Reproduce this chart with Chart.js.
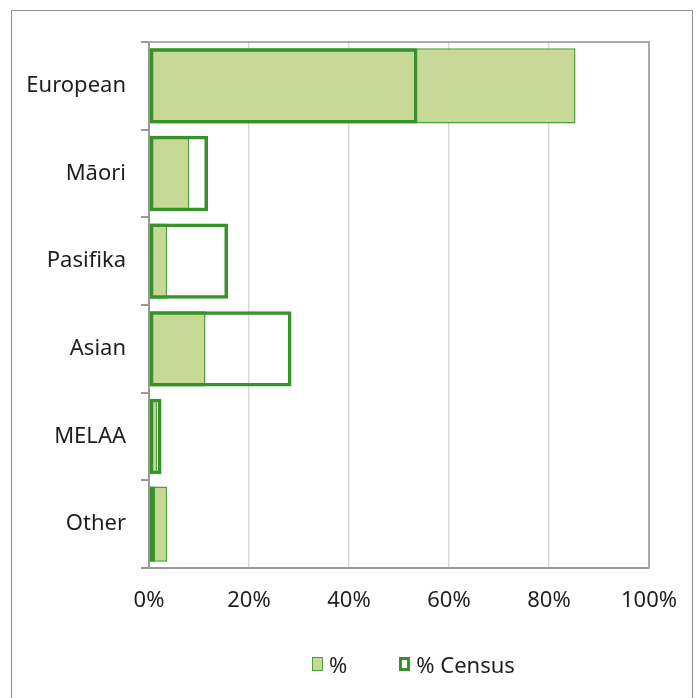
<!DOCTYPE html>
<html>
<head>
<meta charset="utf-8">
<script src="https://cdn.jsdelivr.net/npm/chart.js@4.4.1/dist/chart.umd.min.js"></script>
<style>
    body { margin: 0; background: #fff; }
    #wrap { position: relative; width: 697px; height: 698px; overflow: hidden; }
    #frame { position: absolute; left: 11px; top: 10px; width: 682px; height: 720px; border: 1.5px solid #8c8c8c; box-sizing: border-box; }
    #chart { position: absolute; left: 0; top: 0; }
    #legend { position: absolute; top: 649px; left: 312px; display: flex; font-family: "Noto Sans", sans-serif; font-size: 22px; color: #1e1e1e; }
    #legend .item { display: flex; align-items: center; margin-right: 52px; }
    #legend .box { width: 11px; height: 14px; margin-right: 6px; box-sizing: border-box; }
</style>
</head>
<body>
<div id="wrap">
    <div id="frame"></div>
    <canvas id="chart" width="697" height="698"></canvas>
    <div id="legend"></div>
</div>
<script>
// Ethnicity share vs census

const categories = ['European', 'Māori', 'Pasifika', 'Asian', 'MELAA', 'Other'];
const pctValues = [85.3, 8.0, 3.6, 11.3, 1.6, 3.6];
const censusValues = [53.7, 11.8, 15.8, 28.5, 2.5, 1.2];
const xTicks = [0, 20, 40, 60, 80, 100];

const FILL = 'rgb(200, 216, 150)';
const FILL_BORDER = 'rgb(72, 160, 55)';
const CENSUS_BORDER = 'rgb(55, 146, 44)';
const FONT = { family: '"Noto Sans", sans-serif', size: 22 };

// top + right edge of the plot area
const plotFrame = {
    id: 'plotFrame',
    afterDatasetsDraw(chart) {
        const a = chart.chartArea;
        const ctx = chart.ctx;
        ctx.save();
        ctx.strokeStyle = '#ababab';
        ctx.lineWidth = 2;
        ctx.beginPath();
        ctx.moveTo(a.left, a.top);
        ctx.lineTo(a.right, a.top);
        ctx.lineTo(a.right, a.bottom);
        ctx.stroke();
        ctx.restore();
    }
};

const chart = new Chart(document.getElementById('chart'), {
    type: 'bar',
    data: {
        labels: categories,
        datasets: [{
            label: '%',
            data: pctValues,
            backgroundColor: FILL,
            borderColor: FILL_BORDER,
            borderWidth: 1.5,
            borderSkipped: false,
            order: 1
        }, {
            label: '% Census',
            data: censusValues,
            backgroundColor: 'rgba(255,255,255,0)',
            borderColor: CENSUS_BORDER,
            borderWidth: 3.5,
            borderSkipped: false,
            order: 0
        }]
    },
    options: {
        indexAxis: 'y',
        responsive: false,
        animation: false,
        grouped: false,
        categoryPercentage: 1,
        barPercentage: 0.86,
        layout: { padding: { top: 42, right: 48, left: 0, bottom: 54 } },
        plugins: {
            legend: { display: false },
            tooltip: { enabled: false }
        },
        scales: {
            x: {
                min: 0,
                max: 100,
                afterBuildTicks: axis => { axis.ticks = xTicks.map(v => ({ value: v })); },
                afterFit: axis => { axis.height = 76; },
                grid: {
                    color: ctx => ctx.index === xTicks.length - 1 ? '#ababab' : '#d9d9d9',
                    lineWidth: 1.5,
                    drawTicks: false
                },
                border: { color: '#999', width: 2 },
                ticks: {
                    padding: 20,
                    color: '#1e1e1e',
                    font: FONT,
                    callback: v => v + '%'
                }
            },
            y: {
                afterFit: axis => { axis.width = 149; },
                grid: {
                    offset: true,
                    drawOnChartArea: false,
                    tickLength: 8,
                    color: '#999',
                    lineWidth: 2
                },
                border: { color: '#999', width: 2 },
                ticks: {
                    padding: 15,
                    color: '#1e1e1e',
                    font: FONT
                }
            }
        }
    },
    plugins: [plotFrame]
});

// legend in dataset order
const legend = document.getElementById('legend');
chart.data.datasets.forEach(ds => {
    const item = document.createElement('div');
    item.className = 'item';
    const box = document.createElement('span');
    box.className = 'box';
    box.style.background = ds.backgroundColor === FILL ? FILL : '#fff';
    box.style.border = (ds.borderWidth > 2 ? 3 : 1.5) + 'px solid ' + ds.borderColor;
    const txt = document.createElement('span');
    txt.textContent = ds.label;
    item.appendChild(box);
    item.appendChild(txt);
    legend.appendChild(item);
});
</script>
</body>
</html>
